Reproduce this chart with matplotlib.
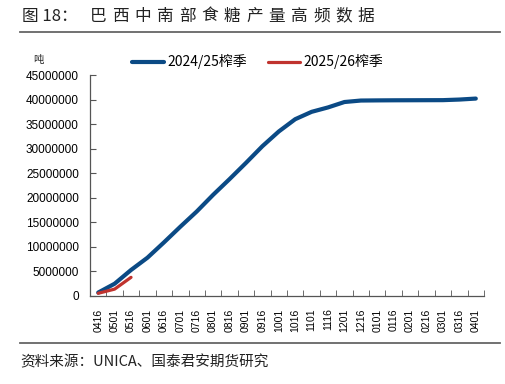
import matplotlib
matplotlib.use('Agg')
import matplotlib.pyplot as plt
from matplotlib.lines import Line2D
from matplotlib.ticker import FixedLocator, FuncFormatter

plt.rcParams['font.family'] = ['Noto Sans CJK SC', 'DejaVu Sans']

dates = ['0416', '0501', '0516', '0601', '0616', '0701', '0716', '0801',
         '0816', '0901', '0916', '1001', '1016', '1101', '1116', '1201',
         '1216', '0101', '0116', '0201', '0216', '0301', '0316', '0401']

# cumulative sugar output, tonnes
season_2425 = [700000, 2500000, 5300000, 7800000, 10900000, 14100000, 17200000,
               20600000, 23800000, 27100000, 30500000, 33500000, 36000000,
               37500000, 38400000, 39500000, 39800000, 39830000, 39850000,
               39860000, 39870000, 39880000, 40000000, 40200000]
season_2526 = [550000, 1400000, 3800000]

labels = ['2024/25榨季', '2025/26榨季']
colors = ['#0B4A85', '#C0332E']

W, H = 505, 384
fig = plt.figure(figsize=(W / 100, H / 100), dpi=100)

ax = fig.add_axes([90 / W, 1 - 296 / H, (484 - 90) / W, (296 - 75) / H])
x1 = list(range(len(season_2425)))
x2 = list(range(len(season_2526)))
ax.plot(x1, season_2425, color=colors[0], lw=3.0, solid_capstyle='round', label=labels[0])
ax.plot(x2, season_2526, color=colors[1], lw=2.3, solid_capstyle='round', label=labels[1])

ax.set_xlim(-0.5, len(dates) - 0.5)
ax.set_ylim(0, 45000000)
ax.set_yticks(range(0, 45000001, 5000000))
ax.yaxis.set_major_formatter(FuncFormatter(lambda v, p: '%d' % v))
ax.set_xticks(x1)
ax.set_xticklabels(dates, rotation=90, fontsize=7.5, family='Liberation Sans')
ax.xaxis.set_minor_locator(FixedLocator([i + 0.5 for i in range(len(dates))]))
ax.tick_params(axis='x', which='major', length=0, pad=9)
ax.tick_params(axis='x', which='minor', direction='in', length=4, color='#555555')
ax.tick_params(axis='y', direction='in', length=4, color='#555555', labelsize=8.5, pad=8)
for lab in ax.get_yticklabels():
    lab.set_family('Liberation Sans')
for s in ['top', 'right']:
    ax.spines[s].set_visible(False)
for s in ['left', 'bottom']:
    ax.spines[s].set_color('#555555')
    ax.spines[s].set_linewidth(0.9)

ax.legend(loc='lower center', bbox_to_anchor=(0.425, 1.0), ncol=2, frameon=False,
          fontsize=10, handlelength=2.3, handletextpad=0.25, columnspacing=1.5,
          borderaxespad=0.0)

fig.text(33 / W, 1 - 60 / H, '吨', fontsize=7.5, ha='left', va='center', color='#222222')

# title with wide letter spacing
fig.text(22 / W, 1 - 16 / H, '图 18：', fontsize=12, ha='left', va='center', color='#222222')
title = '巴西中南部食糖产量高频数据'
for i, ch in enumerate(title):
    fig.text((90 + 22.3 * i) / W, 1 - 16 / H, ch, fontsize=12, ha='left', va='center',
             color='#222222')

fig.add_artist(Line2D([20 / W, 500 / W], [1 - 31.5 / H, 1 - 31.5 / H],
                      color='#666666', lw=1.3, transform=fig.transFigure))
fig.add_artist(Line2D([20 / W, 500 / W], [1 - 343 / H, 1 - 343 / H],
                      color='#666666', lw=1.3, transform=fig.transFigure))

fig.text(20 / W, 1 - 362 / H, '资料来源：UNICA、国泰君安期货研究', fontsize=10.5,
         ha='left', va='center', color='#222222')

fig.savefig('out.png', dpi=100)
